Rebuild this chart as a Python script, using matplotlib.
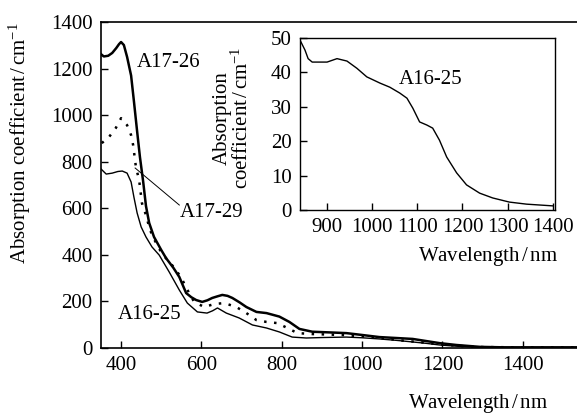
import matplotlib
matplotlib.use('Agg')
import matplotlib.pyplot as plt

plt.rcParams['font.family'] = ['Liberation Serif', 'DejaVu Serif']
plt.rcParams['mathtext.fontset'] = 'custom'
plt.rcParams['mathtext.rm'] = 'Liberation Serif'
plt.rcParams['mathtext.it'] = 'Liberation Serif:italic'

# A17-26 (thick solid)
wl_a = [350, 357, 368, 378, 388, 395, 400, 407, 415, 425, 432, 440, 447, 455, 462, 470,
        482, 500, 512, 530, 545, 562, 575, 587, 602, 615, 627, 640, 652, 665, 677, 695, 712,
        737, 762, 794, 819, 844, 876, 920, 961, 1000, 1043, 1085, 1126, 1193, 1235, 1293,
        1350, 1400, 1535]
ab_a = [1262, 1252, 1255, 1267, 1288, 1305, 1314, 1301, 1250, 1170, 1060, 930, 820, 715,
        610, 537, 477, 421, 386, 345, 305, 236, 218, 206, 198, 205, 215, 222, 228, 224, 215,
        196, 176, 155, 150, 135, 112, 82, 70, 67, 64, 56, 47, 43, 39, 21, 13, 5, 3, 3, 3]

# A17-29 (dotted)
wl_b = [352, 370, 387, 400, 415, 425, 430, 437, 445, 452, 462, 470, 477, 490, 502, 527, 549,
        565, 582, 607, 632, 657, 687, 712, 737, 762, 789, 814, 839, 876, 950, 1000, 1050, 1100,
        1150, 1200, 1250, 1300, 1400, 1535]
ab_b = [880, 906, 945, 987, 957, 914, 872, 777, 721, 622, 571, 520, 485, 442, 405, 356, 305,
        250, 198, 176, 189, 193, 176, 150, 120, 112, 107, 86, 64, 60, 56, 50, 42, 32, 24, 15,
        8, 4, 3, 3]

# A16-25 (thin solid)
wl_c = [350, 363, 378, 392, 403, 415, 425, 432, 440, 450, 462, 477, 495, 520, 545, 565, 590,
        614, 628, 640, 650, 662, 694, 727, 762, 794, 826, 861, 900, 961, 1000, 1043, 1085,
        1126, 1160, 1193, 1250, 1300, 1400, 1535]
ab_c = [769, 747, 751, 758, 760, 751, 713, 648, 580, 520, 477, 434, 399, 326, 249, 193, 155,
        150, 160, 172, 162, 150, 129, 99, 86, 69, 47, 43, 45, 47, 44, 39, 33, 26, 20, 13, 6,
        3, 2, 2]

# inset: A16-25 near infrared
wl_in = [840, 851, 858, 867, 900, 922, 944, 966, 988, 1017, 1039, 1061, 1077, 1090, 1105,
         1121, 1134, 1149, 1165, 1187, 1209, 1238, 1267, 1304, 1342, 1400]
ab_in = [49.4, 46.5, 44, 43, 43, 44, 43.3, 41.2, 38.7, 36.9, 35.7, 34, 32.5, 29.6, 25.6,
         24.7, 23.8, 20.3, 15.4, 10.8, 7.3, 4.9, 3.5, 2.3, 1.7, 1.2]

fs = 15
fig = plt.figure(figsize=(5.77, 4.15), dpi=100)
ax = fig.add_axes([0.175, 0.1614, 0.825, 0.7856])
ax.plot(wl_a, ab_a, color='black', lw=1.8, solid_joinstyle='round')
ax.plot(wl_b, ab_b, color='black', lw=1.8, linestyle=(0, (1, 3)))
ax.plot(wl_c, ab_c, color='black', lw=1.0, solid_joinstyle='round')
ax.set_xlim(350, 1535)
ax.set_ylim(0, 1400)
ax.set_xticks([400, 600, 800, 1000, 1200, 1400])
ax.set_yticks(range(0, 1401, 200))
ax.tick_params(direction='in', length=5, width=1, labelsize=fs, pad=6)
ax.spines['right'].set_visible(False)
for s in ['left', 'bottom', 'top']:
    ax.spines[s].set_linewidth(1.2)

ax.text(440, 1228, 'A17-26', fontsize=fs, va='center')
ax.text(547, 584, 'A17-29', fontsize=fs, va='center')
ax.plot([435, 545], [773, 614], color='black', lw=0.7)
ax.text(393, 146, 'A16-25', fontsize=fs, va='center')

fig.text(478 / 577, 1 - 403 / 415, 'Wavelength$\\,$/$\\,$nm', fontsize=fs,
         ha='center', va='center')
fig.text(20 / 577, 1 - 143 / 415, 'Absorption coefficient$\\,$/$\\,$cm$^{-1}$', fontsize=fs,
         rotation=90, ha='center', va='center')

ins = fig.add_axes([300 / 577, 1 - 210 / 415, 255 / 577, 172 / 415])
ins.plot(wl_in, ab_in, color='black', lw=1.0)
ins.set_xlim(840, 1405)
ins.set_ylim(0, 50)
ins.set_xticks(range(900, 1401, 100))
ins.set_yticks(range(0, 51, 10))
ins.tick_params(direction='in', length=5, width=1, labelsize=fs, pad=6)
for s in ins.spines.values():
    s.set_linewidth(1.0)
ins.text(1059, 37.8, 'A16-25', fontsize=fs, va='center')

fig.text(488 / 577, 1 - 257 / 415, 'Wavelength$\\,$/$\\,$nm', fontsize=fs,
         ha='center', va='center')
fig.text(233 / 577, 1 - 118 / 415, 'Absorption\ncoefficient$\\,$/$\\,$cm$^{-1}$', fontsize=fs,
         rotation=90, ha='center', va='center', linespacing=1.0)

fig.savefig('out.png', dpi=100)
